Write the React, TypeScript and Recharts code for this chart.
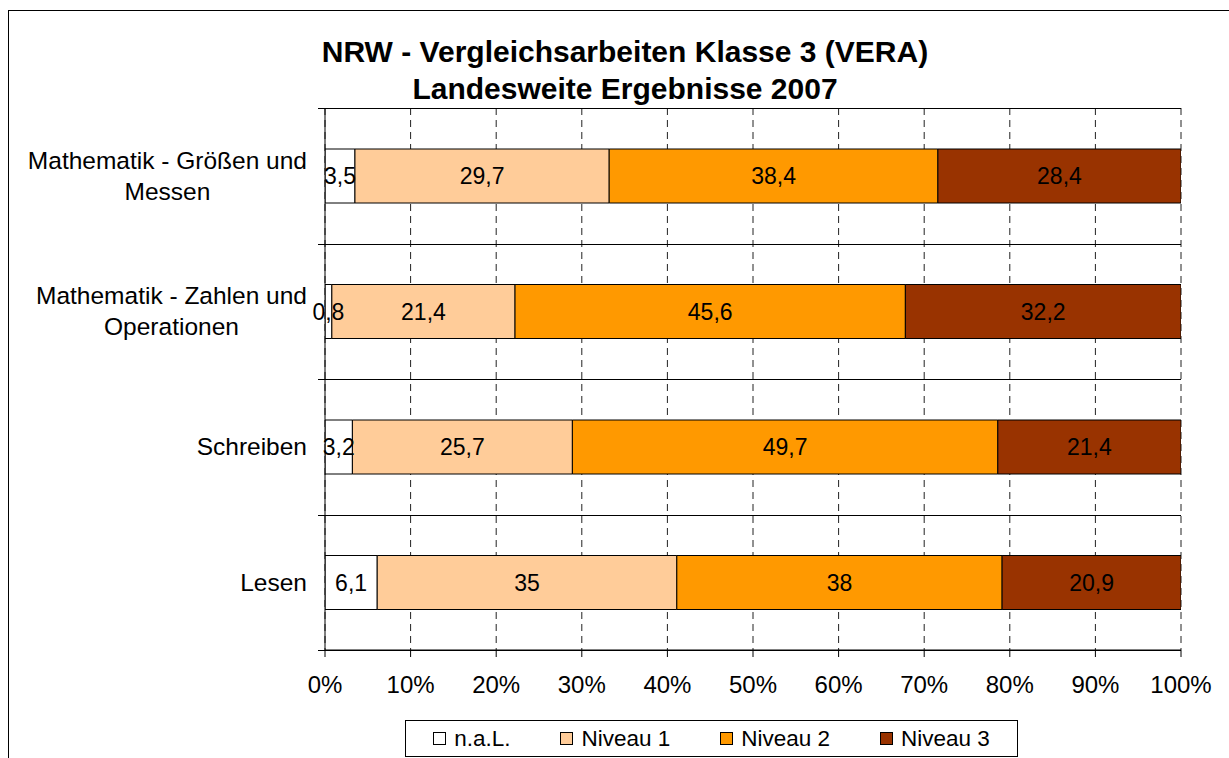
import React from 'react';
import { BarChart, Bar, XAxis, YAxis, CartesianGrid, LabelList } from 'recharts';

const categories = [
  'Mathematik - Größen und Messen',
  'Mathematik - Zahlen und Operationen',
  'Schreiben',
  'Lesen',
];
const nalValues = [3.5, 0.8, 3.2, 6.1];
const niveau1Values = [29.7, 21.4, 25.7, 35];
const niveau2Values = [38.4, 45.6, 49.7, 38];
const niveau3Values = [28.4, 32.2, 21.4, 20.9];

const seriesKeys = ['nal', 'n1', 'n2', 'n3'];
const seriesNames = ['n.a.L.', 'Niveau 1', 'Niveau 2', 'Niveau 3'];
const seriesColors = ['#FFFFFF', '#FFCC99', '#FF9900', '#993300'];

const xTicks = [0, 10, 20, 30, 40, 50, 60, 70, 80, 90, 100];
const titleLines = ['NRW - Vergleichsarbeiten Klasse 3 (VERA)', 'Landesweite Ergebnisse 2007'];

const FONT = '"Liberation Sans", Arial, sans-serif';
const TICK_LEN = 7;
const WRAP_CHARS = 24;

const data = categories.map((name, i) => ({
  name,
  nal: nalValues[i],
  n1: niveau1Values[i],
  n2: niveau2Values[i],
  n3: niveau3Values[i],
}));

// greedy word wrap
const wrapLabel = (s: string): string[] => {
  const words = s.split(' ');
  const lines: string[] = [];
  let cur = '';
  for (const w of words) {
    const next = cur ? cur + ' ' + w : w;
    if (next.length > WRAP_CHARS && cur) {
      lines.push(cur);
      cur = w;
    } else {
      cur = next;
    }
  }
  if (cur) lines.push(cur);
  return lines;
};

// category band boundaries, derived from the plot area
const boundaryGenerator = (props: any) => {
  const off = props.offset;
  const n = categories.length;
  return Array.from({ length: n + 1 }, (_, i) => Math.round(off.top + (i * off.height) / n) + 0.5);
};

const CategoryTick = (props: any) => {
  const { x, y, payload } = props;
  const w = 310;
  const h = 90;
  return (
    <foreignObject x={x - 18 - w} y={y - h / 2} width={w} height={h}>
      <div
        style={{
          width: w,
          height: h,
          display: 'flex',
          justifyContent: 'flex-end',
          alignItems: 'center',
        }}
      >
        <div
          style={{
            textAlign: 'center',
            whiteSpace: 'nowrap',
            fontFamily: FONT,
            fontSize: 24.5,
            lineHeight: '31px',
            color: '#000',
          }}
        >
          {wrapLabel(String(payload.value)).map((l, i) => (
            <div key={i}>{l}</div>
          ))}
        </div>
      </div>
    </foreignObject>
  );
};

const fmt = (v: any) => String(v).replace('.', ',');

const CHART_W = 1229;
const CHART_H = 758;
const MARGIN = { top: 108, right: 48, bottom: 58, left: 8 };
const Y_AXIS_W = 317;
const PLOT_LEFT = MARGIN.left + Y_AXIS_W;
const PLOT_W = CHART_W - PLOT_LEFT - MARGIN.right;

export default function App() {
  return (
    <div
      style={{
        position: 'absolute',
        left: 0,
        top: 0,
        width: CHART_W,
        height: CHART_H,
        overflow: 'hidden',
        background: '#fff',
        fontFamily: FONT,
      }}
    >
      <div
        style={{
          position: 'absolute',
          left: 8,
          top: 10,
          width: 1300,
          height: 800,
          border: '1px solid #000',
          boxSizing: 'border-box',
        }}
      />
      <div
        style={{
          position: 'absolute',
          left: 0,
          top: 33,
          width: 1250,
          textAlign: 'center',
          fontWeight: 'bold',
          fontSize: 30,
          lineHeight: '37px',
          color: '#000',
        }}
      >
        {titleLines.map((t) => (
          <div key={t}>{t}</div>
        ))}
      </div>
      <div style={{ position: 'absolute', left: 0, top: 0 }}>
        <BarChart
          width={CHART_W}
          height={CHART_H}
          data={data}
          layout="vertical"
          margin={MARGIN}
        >
          <CartesianGrid horizontal={false} stroke="#222" strokeDasharray="7 5" />
          <CartesianGrid
            vertical={false}
            stroke="#000"
            x={PLOT_LEFT - TICK_LEN}
            width={PLOT_W + TICK_LEN}
            horizontalCoordinatesGenerator={boundaryGenerator}
          />
          <XAxis
            type="number"
            domain={[0, 100]}
            ticks={xTicks}
            interval={0}
            allowDataOverflow
            tickFormatter={(v: number) => `${v}%`}
            tickSize={TICK_LEN}
            tickMargin={19}
            height={50}
            stroke="#000"
            tick={{ fill: '#000', fontSize: 24, fontFamily: FONT }}
          />
          <YAxis
            type="category"
            dataKey="name"
            width={Y_AXIS_W}
            axisLine={{ stroke: '#000' }}
            tickLine={false}
            tickSize={0}
            tickMargin={0}
            interval={0}
            tick={CategoryTick}
          />
          {seriesKeys.map((k, i) => (
            <Bar
              key={k}
              dataKey={k}
              name={seriesNames[i]}
              stackId="a"
              fill={seriesColors[i]}
              stroke="#000"
              strokeWidth={1}
              barSize={54}
              isAnimationActive={false}
            >
              <LabelList
                dataKey={k}
                position="center"
                formatter={fmt}
                fill="#000"
                fontSize={23}
                fontFamily={FONT}
              />
            </Bar>
          ))}
        </BarChart>
      </div>
      <div
        style={{
          position: 'absolute',
          left: 405,
          top: 720,
          width: 613,
          height: 37,
          border: '1px solid #000',
          boxSizing: 'border-box',
          background: '#fff',
          display: 'flex',
          alignItems: 'center',
          justifyContent: 'center',
          gap: 50,
          fontSize: 22.5,
          color: '#000',
        }}
      >
        {seriesNames.map((n, i) => (
          <div key={n} style={{ display: 'flex', alignItems: 'center' }}>
            <div
              style={{
                width: 13,
                height: 13,
                background: seriesColors[i],
                border: '1px solid #000',
                boxSizing: 'border-box',
                marginRight: 8,
              }}
            />
            <span>{n}</span>
          </div>
        ))}
      </div>
    </div>
  );
}
